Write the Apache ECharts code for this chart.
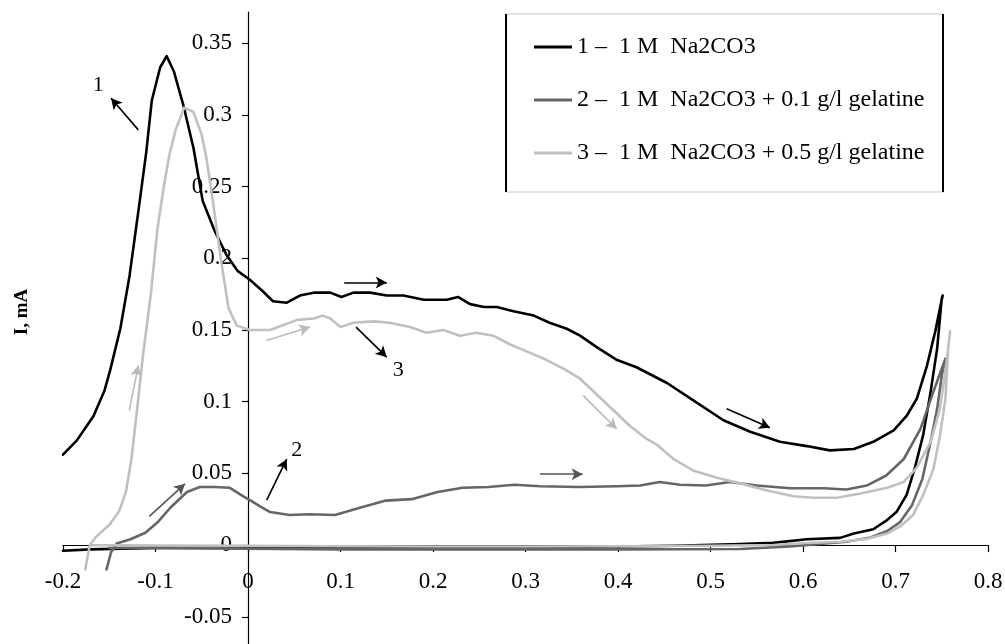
<!DOCTYPE html>
<html><head><meta charset="utf-8">
<script src="https://cdn.jsdelivr.net/npm/echarts@6/dist/echarts.min.js"></script>
<style>html,body{margin:0;padding:0;background:#fff}#c{width:1005px;height:644px}</style>
</head><body><div id="c"></div>
<script>
const seriesNames = ['1 –  1 M  Na2CO3', '2 –  1 M  Na2CO3 + 0.1 g/l gelatine', '3 –  1 M  Na2CO3 + 0.5 g/l gelatine'];
const xTicks = [-0.2,-0.1,0,0.1,0.2,0.3,0.4,0.5,0.6,0.7,0.8];
const yTicks = [-0.05,0,0.05,0.1,0.15,0.2,0.25,0.3,0.35];
const yAxisTitle = 'I, mA';

const curve1 = [[-0.2,0.063],[-0.185,0.073],[-0.167,0.090],[-0.155,0.108],[-0.149,0.122],[-0.138,0.151],[-0.128,0.188],[-0.117,0.240],[-0.110,0.274],[-0.104,0.310],[-0.095,0.333],[-0.088,0.341],[-0.080,0.330],[-0.070,0.307],[-0.059,0.277],[-0.049,0.240],[-0.036,0.219],[-0.023,0.202],[-0.011,0.191],[0.002,0.185],[0.016,0.177],[0.027,0.170],[0.042,0.169],[0.056,0.174],[0.071,0.176],[0.089,0.176],[0.101,0.173],[0.114,0.176],[0.132,0.176],[0.150,0.174],[0.168,0.174],[0.190,0.171],[0.215,0.171],[0.227,0.173],[0.240,0.168],[0.255,0.166],[0.269,0.166],[0.287,0.163],[0.309,0.160],[0.326,0.155],[0.344,0.151],[0.359,0.146],[0.377,0.138],[0.399,0.129],[0.420,0.124],[0.453,0.113],[0.481,0.101],[0.514,0.087],[0.543,0.079],[0.575,0.072],[0.604,0.069],[0.629,0.066],[0.655,0.067],[0.676,0.072],[0.698,0.080],[0.712,0.090],[0.723,0.102],[0.734,0.125],[0.743,0.149],[0.748,0.165],[0.751,0.174],[0.750,0.172],[0.745,0.137],[0.738,0.107],[0.730,0.077],[0.721,0.054],[0.712,0.035],[0.701,0.023],[0.690,0.017],[0.676,0.011],[0.655,0.008],[0.640,0.005],[0.604,0.004],[0.568,0.0015],[0.532,0.0007],[0.46,-0.0005],[0.4,-0.001],[0.3,-0.0015],[0.2,-0.002],[0.1,-0.002],[0,-0.002],[-0.1,-0.002],[-0.17,-0.003],[-0.2,-0.004]];

const curve2 = [[-0.153,-0.017],[-0.148,-0.005],[-0.142,0.001],[-0.127,0.004],[-0.111,0.0086],[-0.098,0.0157],[-0.084,0.026],[-0.066,0.037],[-0.052,0.0405],[-0.037,0.0405],[-0.020,0.040],[-0.005,0.034],[0.003,0.031],[0.013,0.027],[0.024,0.023],[0.045,0.021],[0.066,0.0215],[0.094,0.021],[0.121,0.026],[0.149,0.031],[0.177,0.032],[0.205,0.037],[0.232,0.040],[0.260,0.0405],[0.288,0.042],[0.316,0.041],[0.357,0.0405],[0.399,0.041],[0.424,0.0415],[0.445,0.044],[0.467,0.042],[0.495,0.0415],[0.521,0.044],[0.550,0.0415],[0.586,0.0396],[0.622,0.0396],[0.647,0.0387],[0.669,0.0415],[0.690,0.0485],[0.709,0.060],[0.727,0.081],[0.741,0.107],[0.750,0.123],[0.754,0.130],[0.750,0.118],[0.745,0.095],[0.738,0.072],[0.729,0.046],[0.718,0.028],[0.705,0.016],[0.691,0.0098],[0.673,0.0053],[0.647,0.0023],[0.618,0.0007],[0.586,-0.0009],[0.532,-0.0028],[0.4,-0.003],[0.3,-0.003],[0.2,-0.003],[0.1,-0.003],[0,-0.0025],[-0.1,-0.002],[-0.15,-0.002]];

const curve3 = [[-0.176,-0.017],[-0.171,0.0],[-0.164,0.006],[-0.150,0.014],[-0.139,0.024],[-0.132,0.037],[-0.126,0.060],[-0.120,0.094],[-0.113,0.135],[-0.105,0.175],[-0.098,0.220],[-0.091,0.250],[-0.085,0.272],[-0.078,0.290],[-0.069,0.305],[-0.059,0.302],[-0.050,0.286],[-0.045,0.270],[-0.038,0.240],[-0.029,0.198],[-0.021,0.165],[-0.012,0.153],[0.002,0.150],[0.024,0.150],[0.053,0.157],[0.071,0.158],[0.081,0.160],[0.089,0.158],[0.100,0.152],[0.114,0.155],[0.136,0.156],[0.153,0.155],[0.175,0.152],[0.193,0.148],[0.211,0.150],[0.229,0.146],[0.247,0.148],[0.265,0.146],[0.283,0.140],[0.305,0.134],[0.323,0.129],[0.341,0.123],[0.359,0.116],[0.377,0.105],[0.395,0.094],[0.413,0.083],[0.431,0.074],[0.442,0.070],[0.460,0.060],[0.481,0.052],[0.507,0.047],[0.532,0.043],[0.561,0.038],[0.590,0.034],[0.611,0.033],[0.637,0.033],[0.662,0.036],[0.691,0.040],[0.709,0.044],[0.723,0.054],[0.738,0.072],[0.748,0.095],[0.755,0.126],[0.759,0.149],[0.757,0.137],[0.754,0.102],[0.748,0.076],[0.741,0.053],[0.730,0.035],[0.719,0.021],[0.705,0.013],[0.691,0.008],[0.669,0.0043],[0.640,0.0023],[0.604,0.0014],[0.568,0.0],[0.5,-0.0005],[0.4,-0.0008],[0.3,-0.001],[0.2,-0.001],[0.1,-0.0008],[0,-0.0005],[-0.1,-0.0003],[-0.17,0.0]];

// annotation arrows [x1,y1,x2,y2] in data units, grouped by colour of series
const arrows1 = [[-0.1186,0.2895,-0.148,0.3115],[0.104,0.183,0.150,0.183],[0.1168,0.152,0.150,0.131],[0.0202,0.0313,0.0418,0.0599],[0.5175,0.0951,0.5643,0.0818]];
const arrows2 = [[-0.1067,0.0200,-0.0681,0.0427],[0.3157,0.0494,0.3618,0.0494]];
const arrows3 = [[-0.1283,0.0939,-0.1186,0.1252],[0.020,0.1427,0.067,0.152],[0.3625,0.1042,0.3986,0.0809]];
// curve number labels [x,y,text]
const curveLabels = [[-0.162,0.3205,'1'],[0.0526,0.066,'2'],[0.1625,0.1218,'3']];

const colors = ['#000000','#666666','#c0c0c0'];
const FONT = 'Liberation Serif, Times New Roman, serif';
const X_MIN = -0.2, X_MAX = 0.8, Y_MIN = -0.069, Y_MAX = 0.3717;
const fmt = v => String(+(+v).toFixed(2));

function arrowLines(arr){
  return arr.map(a => [{coord:[a[0],a[1]]},{coord:[a[2],a[3]]}]);
}

const chart = echarts.init(document.getElementById('c'), null, {renderer:'canvas'});
const mkSeries = (i, data, arr) => ({
  name: seriesNames[i], type:'line', data: data, showSymbol:false, symbol:'none',
  xAxisIndex:0, yAxisIndex:0,
  smooth:false, z: 3 + i,
  lineStyle:{color:colors[i], width:2.6, join:'round', cap:'round'},
  itemStyle:{color:colors[i]},
  markLine:{silent:true, symbol:['none','arrow'], symbolSize:[9,11], animation:false,
    label:{show:false},
    lineStyle:{color: i===0 ? '#000' : (i===1 ? '#555' : '#bbb'), width:1.6, type:'solid'},
    emphasis:{disabled:true},
    data: arrowLines(arr)}
});
const s1 = mkSeries(0, curve1, arrows1);
s1.markPoint = {silent:true, symbol:'circle', symbolSize:1, itemStyle:{color:'rgba(0,0,0,0)'},
  label:{show:true, position:'inside', color:'#000', fontSize:22, fontFamily:FONT, formatter:p=>p.data.name},
  data: curveLabels.map(l => ({coord:[l[0],l[1]], name:l[2]}))};

chart.setOption({
  animation:false,
  backgroundColor:'#fff',
  grid:[
    {left:63, top:12, width:925, height:632, outerBoundsMode:'none', containLabel:false},
    {left:248, top:12, width:100, height:632, outerBoundsMode:'none', containLabel:false},
    {left:63, top:12, width:925, height:533, outerBoundsMode:'none', containLabel:false}
  ],
  xAxis:[
    {gridIndex:0, type:'value', min:X_MIN, max:X_MAX, interval:0.1,
      axisLine:{onZero:true, lineStyle:{color:'#000', width:1.2}},
      axisTick:{show:true, length:7, inside:false, lineStyle:{color:'#000', width:1.2}},
      axisLabel:{show:false}, splitLine:{show:false}},
    {gridIndex:1, type:'value', show:false},
    {gridIndex:2, type:'value', min:X_MIN, max:X_MAX, interval:0.1,
      axisLine:{show:false, onZero:false}, axisTick:{show:false}, splitLine:{show:false},
      axisLabel:{color:'#000', fontSize:23, fontFamily:FONT, margin:25, showMinLabel:true, showMaxLabel:true,
        customValues: xTicks, formatter: fmt}}
  ],
  yAxis:[
    {gridIndex:0, type:'value', min:Y_MIN, max:Y_MAX,
      axisLine:{onZero:true, lineStyle:{color:'#000', width:1.2}},
      axisTick:{show:true, length:6, customValues: yTicks, lineStyle:{color:'#000', width:1.2}},
      axisLabel:{show:false}, splitLine:{show:false}},
    {gridIndex:1, type:'value', min:Y_MIN, max:Y_MAX,
      axisLine:{show:false, onZero:false}, axisTick:{show:false}, splitLine:{show:false},
      axisLabel:{color:'#000', fontSize:23, fontFamily:FONT, margin:16, customValues: yTicks, formatter: fmt}},
    {gridIndex:2, type:'value', show:false, min:-1, max:1}
  ],
  legend:{show:true, orient:'vertical', left:534, top:34, padding:0, itemWidth:38, itemHeight:3, itemGap:27,
    icon:'rect', selectedMode:false,
    textStyle:{color:'#000', fontSize:24, fontFamily:FONT, lineHeight:26},
    data: seriesNames.map((n,i)=>({name:n, itemStyle:{color:colors[i]}}))},
  graphic:[
    {type:'rect', shape:{x:506, y:14, width:437, height:178}, style:{fill:'#fff', stroke:'#c8c8c8', lineWidth:1}, z:-1, silent:true},
    {type:'line', shape:{x1:506, y1:14, x2:506, y2:192}, style:{stroke:'#000', lineWidth:2}, z:-1, silent:true},
    {type:'line', shape:{x1:943, y1:14, x2:943, y2:192}, style:{stroke:'#000', lineWidth:2}, z:-1, silent:true},
    {type:'text', x:22, y:312, rotation:Math.PI/2,
      style:{text:yAxisTitle, fill:'#000', font:'bold 19px ' + FONT, align:'center', verticalAlign:'middle'}, silent:true}
  ],
  series:[ s1, mkSeries(1, curve2, arrows2), mkSeries(2, curve3, arrows3) ]
});
</script></body></html>
